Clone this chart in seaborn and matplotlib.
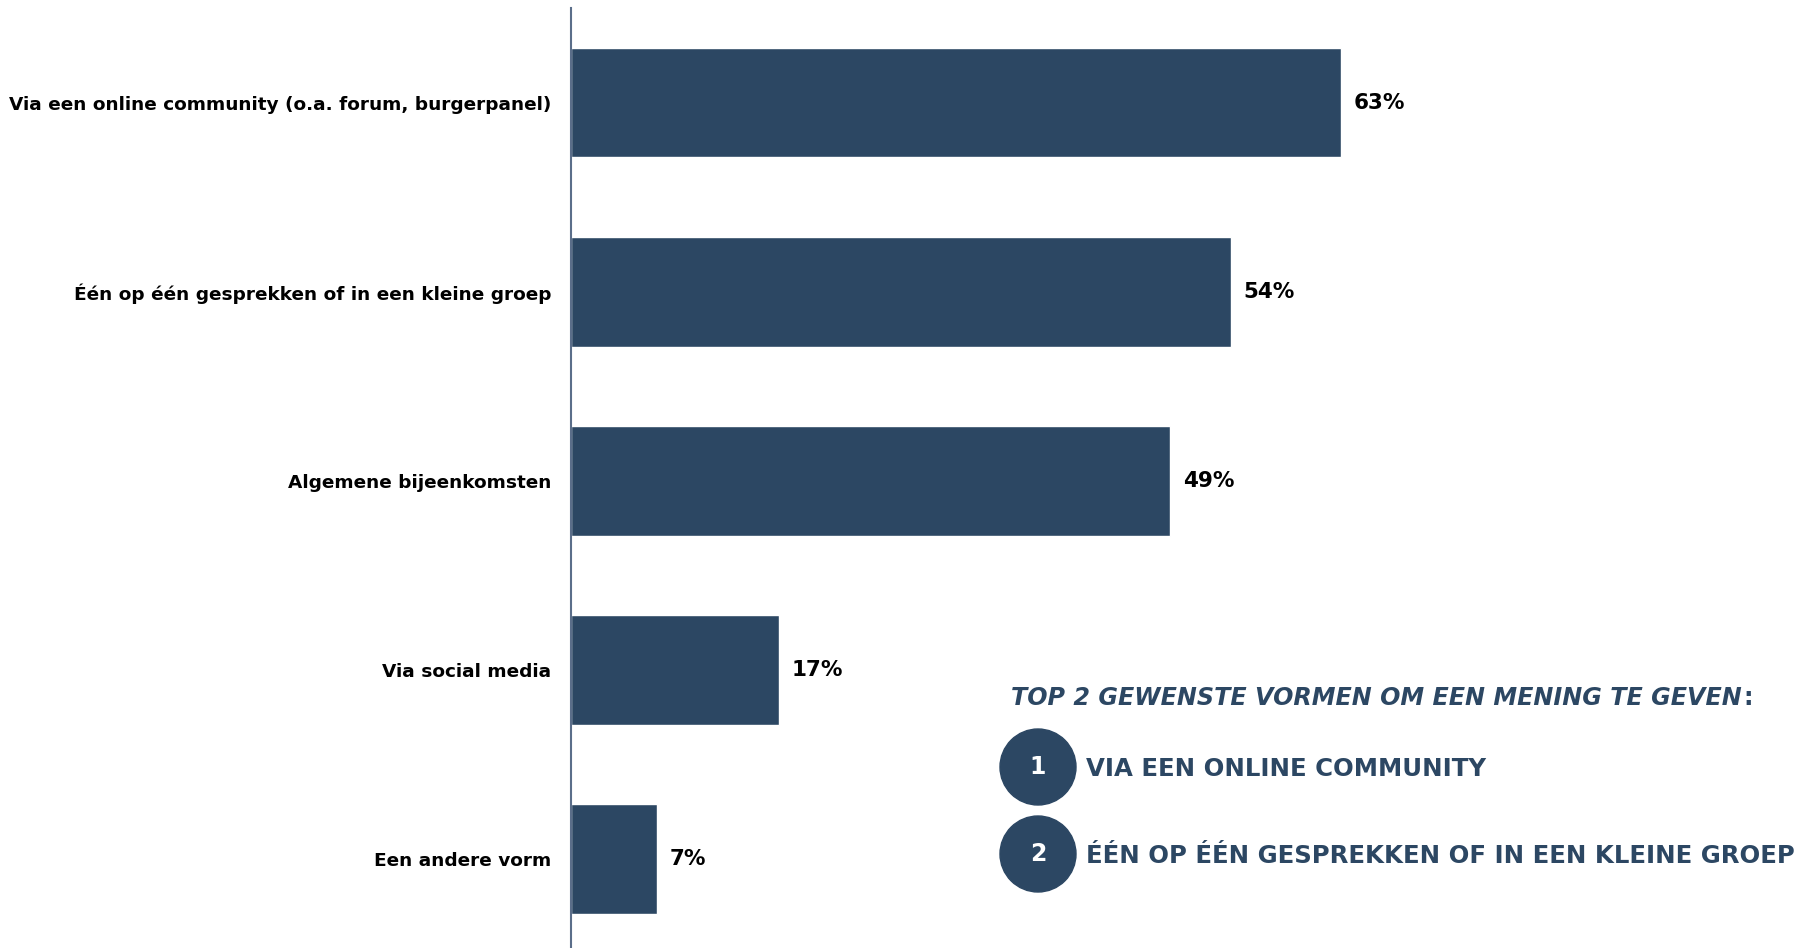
import matplotlib
matplotlib.use('Agg')
import matplotlib.pyplot as plt
import seaborn as sns
import pandas as pd
from matplotlib.patches import Ellipse

categories = [
    'Via een online community (o.a. forum, burgerpanel)',
    'Één op één gesprekken of in een kleine groep',
    'Algemene bijeenkomsten',
    'Via social media',
    'Een andere vorm',
]
values = [63, 54, 49, 17, 7]
top2 = ['VIA EEN ONLINE COMMUNITY', 'ÉÉN OP ÉÉN GESPREKKEN OF IN EEN KLEINE GROEP']

bar_color = '#2C4763'
text_blue = '#2C4763'

sns.set_style('white')
plt.rcParams['font.family'] = ['DejaVu Sans']

df = pd.DataFrame({'vorm': categories, 'pct': values})

fig = plt.figure(figsize=(18, 9.48), dpi=100)
ax = fig.add_axes([571 / 1800, 0.0, 1 - 571 / 1800, 1 - 8 / 948])

sns.barplot(data=df, x='pct', y='vorm', color=bar_color, width=0.58,
            saturation=1, ax=ax)

ax.set_xlim(0, 100.6)
ax.set_ylim(4.47, -0.5)
ax.set_xlabel('')
ax.set_ylabel('')
ax.set_xticks([])
ax.tick_params(axis='y', length=0, pad=14)
for lbl in ax.get_yticklabels():
    lbl.set_fontweight('bold')
    lbl.set_fontsize(13.3)
    lbl.set_color('black')

for s in ['top', 'right', 'bottom']:
    ax.spines[s].set_visible(False)
ax.spines['left'].set_color('#5B6E8A')
ax.spines['left'].set_linewidth(1.5)

for i, v in enumerate(values):
    ax.annotate(f'{v}%', xy=(v, i), xytext=(13, 0), textcoords='offset pixels',
                ha='left', va='center', fontsize=15.5, fontweight='bold', color='black')

# top 2 box
title = fig.text(1011 / 1800, 1 - 698 / 948, 'TOP 2 GEWENSTE VORMEN OM EEN MENING TE GEVEN',
                 ha='left', va='center', fontsize=17.2, fontweight='bold', style='italic',
                 color=text_blue)
fig.text(0, 0, ':', transform=matplotlib.transforms.offset_copy(
             title.get_transform(), fig=fig, x=0, y=0),
         visible=False)
ax.annotate(':', xy=(1.0, 0.5), xycoords=title, xytext=(2, 0), textcoords='offset pixels',
            ha='left', va='center', fontsize=17.2, fontweight='bold', color=text_blue,
            annotation_clip=False)

for k, (label, yc) in enumerate(zip(top2, [767, 854])):
    fig.add_artist(Ellipse((1038 / 1800, 1 - yc / 948), 76 / 1800, 76 / 948,
                           transform=fig.transFigure, color=bar_color))
    fig.text(1038 / 1800, 1 - yc / 948, str(k + 1), ha='center', va='center',
             fontsize=17, fontweight='bold', color='white')
    fig.text(1086 / 1800, 1 - (yc + 2) / 948, label, ha='left', va='center',
             fontsize=17.6, fontweight='bold', color=text_blue)

fig.savefig('out.png', dpi=100)
